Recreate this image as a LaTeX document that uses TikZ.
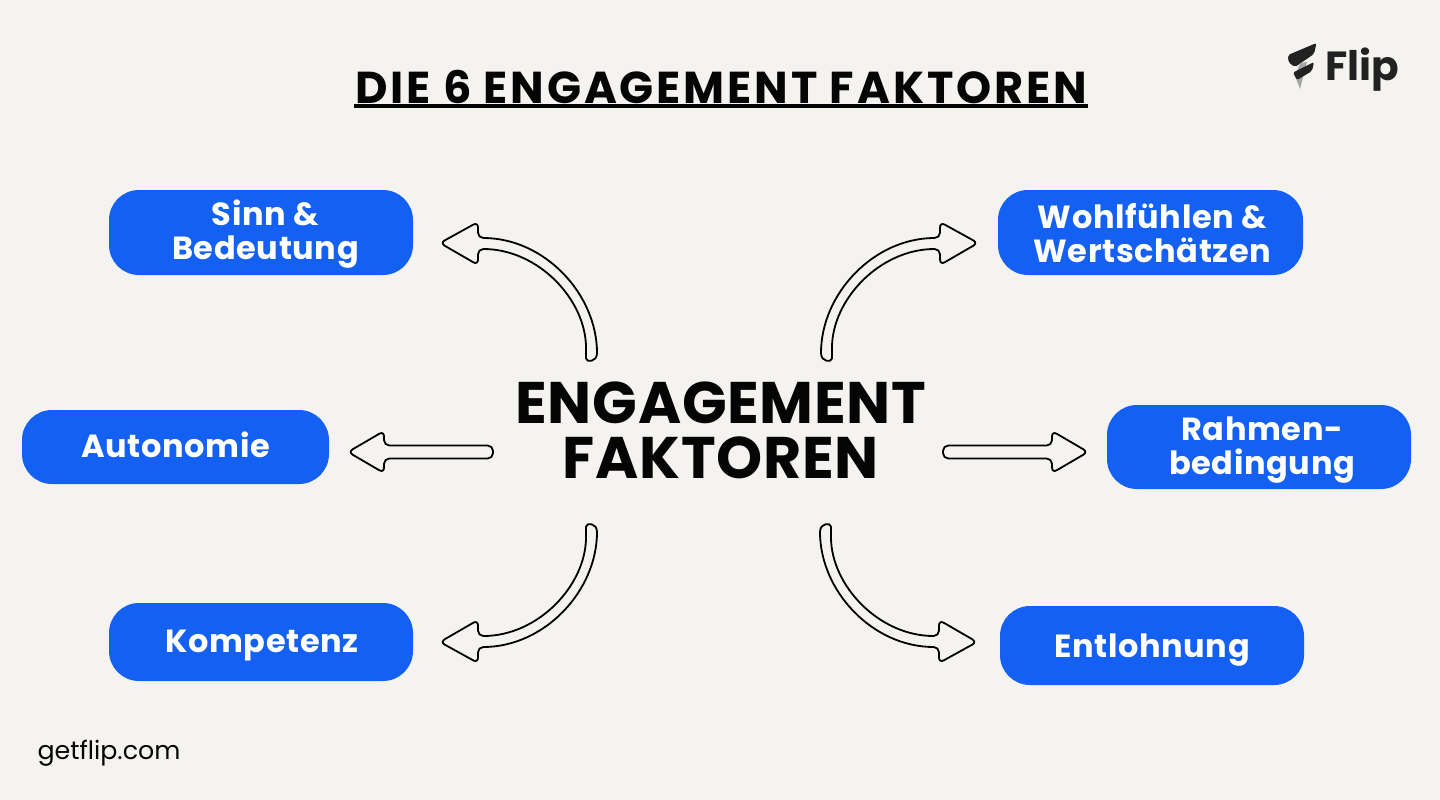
\documentclass[tikz,border=0pt]{standalone}
\usepackage{fontspec}
\setmainfont{Poppins}
\newfontfamily\pillf{Poppins Bold}[LetterSpace=2]
\newfontfamily\titlef{Poppins Bold}[LetterSpace=6.4]
\newfontfamily\hubf{Poppins Bold}[LetterSpace=1.2]
\newfontfamily\logof{Poppins Bold}
\usetikzlibrary{calc}
\definecolor{bg}{HTML}{F4F3F0}
\definecolor{blueb}{HTML}{1460F2}
\definecolor{ink}{HTML}{050505}
\definecolor{logoc}{HTML}{222222}
\tikzset{x=0.75pt,y=-0.75pt,
 pilltext/.style={text=white,font=\pillf\fontsize{24}{25.2}\selectfont,align=center,inner sep=0pt},
 hubtext/.style={text=ink,font=\hubf\fontsize{44}{41.3}\selectfont,align=center,inner sep=0pt},
 blockarrow/.style={draw=black,line width=1.35pt,fill=bg,rounded corners=4pt,line join=round},
}
\newcommand{\pillbox}[6]{% name x1 y1 x2 y2 radius
 \fill[blueb,rounded corners=#6*0.75pt] (#2,#3) rectangle (#4,#5);
 \coordinate (#1) at ($(#2,#3)!.5!(#4,#5)$);}
\newcommand{\curvedarrow}[3]{% anchor xs ys ; anchor is tail centre
 \begin{scope}[shift={(#1)},xscale=#2,yscale=#3]
 \draw[blockarrow] (5.5,0) .. controls (5.5,-59) and (-47,-115) .. (-113.5,-115)
   -- (-113.5,-131) -- (-151.5,-110) -- (-113.5,-88) -- (-113.5,-104)
   .. controls (-53,-104) and (-5.5,-53) .. (-5.5,0)
   [sharp corners] .. controls (-5.5,9.5) and (5.5,9.5) .. (5.5,0) -- cycle;
 \end{scope}}
\newcommand{\straightarrow}[2]{% anchor xs
 \begin{scope}[shift={(#1)},xscale=#2]
 \draw[blockarrow] (0,-6.5) -- (-109,-6.5) -- (-109,-21) -- (-145,0) -- (-109,21) -- (-109,6.5) -- (0,6.5) -- cycle;
 \end{scope}}
\begin{document}
\begin{tikzpicture}
\useasboundingbox (0,0) rectangle (1440,800);
\fill[bg] (0,0) rectangle (1440,800);
% title
\node[inner sep=0pt,text=ink,font=\titlef\fontsize{33.5}{36}\selectfont] (title) at (721,87) {DIE 6 ENGAGEMENT FAKTOREN};
\coordinate (ul1) at (354,106); \coordinate (ul2) at (1088,106);
\draw[ink,line width=3pt] (ul1) -- (ul2);
% hub
\node[hubtext] (hub) at (721,430) {ENGAGEMENT\\FAKTOREN};
% boxes
\pillbox{sinn}{109}{190}{413}{275}{30}
\pillbox{wohl}{998}{190}{1303}{275}{30}
\pillbox{auto}{22}{410}{329}{484}{30}
\pillbox{rahm}{1107}{405}{1411}{489}{30}
\pillbox{komp}{109}{603}{413}{681}{30}
\pillbox{entl}{1000}{606}{1304}{685}{30}
\node[pilltext] (tsinn) at (265.5,234) {Sinn \&\\Bedeutung};
\node[pilltext] (twohl) at (1152.5,233) {Wohlfühlen \&\\Wertschätzen};
\node[pilltext] (tauto) at (175.5,445) {Autonomie};
\node[pilltext] (trahm) at (1262,450) {Rahmen-\\bedingung};
\node[pilltext] (tkomp) at (262,646) {Kompetenz};
\node[pilltext] (tentl) at (1152,650) {Entlohnung};
% arrows
\coordinate (a1) at (591.5,353); \coordinate (a2) at (826.5,353);
\coordinate (a3) at (591.5,532); \coordinate (a4) at (825.5,532);
\coordinate (a5) at (493,452); \coordinate (a6) at (943,452);
\curvedarrow{a1}{1}{1}
\curvedarrow{a2}{-1}{1}
\curvedarrow{a3}{1}{-1}
\curvedarrow{a4}{-1}{-1}
\straightarrow{a5}{1}
\straightarrow{a6}{-1}
% logo
\fill[logoc,rounded corners=1.5pt] (1316.5,43) -- (1314,54) -- (1295,67) -- (1288.5,62.5) -- (1288,55) -- cycle;
\fill[gray!70] (1300,63) -- (1307,62) -- (1300,89) -- (1295,76) -- cycle;
\fill[logoc,rounded corners=1.5pt] (1314,62) -- (1312,71) -- (1297,80) -- (1293,72.5) -- cycle;
\node[inner sep=0pt,text=logoc,font=\logof\fontsize{30.5}{34}\selectfont] (logo) at (1362.5,69.5) {Flip};
% footer
\node[inner sep=0pt,text=ink,font=\fontsize{19}{22}\selectfont] (foot) at (109,753) {getflip.com};
\end{tikzpicture}
\end{document}
